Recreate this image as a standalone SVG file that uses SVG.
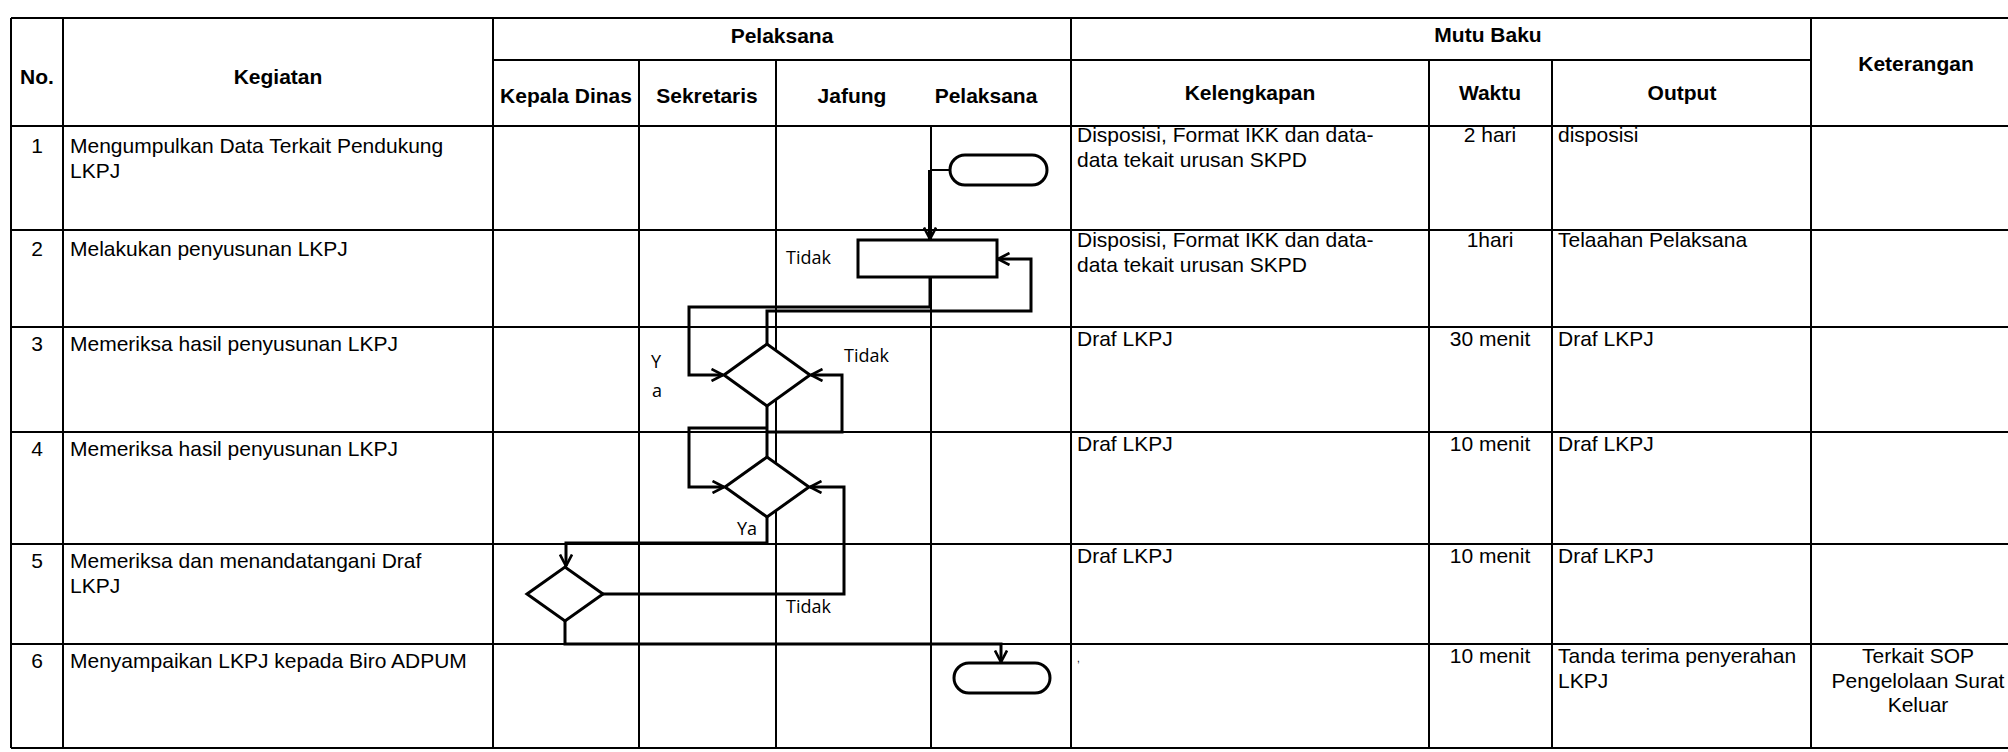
<svg xmlns="http://www.w3.org/2000/svg" width="2008" height="752" viewBox="0 0 2008 752">
<style>
.grid line{stroke:#000;stroke-width:2}
.h{font-family:"Liberation Sans",Arial,sans-serif;font-size:21px;font-weight:bold;text-anchor:middle;fill:#000}
.t{font-family:"Liberation Sans",Arial,sans-serif;font-size:21px;fill:#000}
.c{text-anchor:middle}
.lbl{font-family:"Open Sans","Noto Sans",sans-serif;font-size:18px;fill:#000}
.shape{fill:#fff;stroke:#000;stroke-width:3}
.conn{fill:none;stroke:#000;stroke-width:3}
</style>
<defs>
<marker id="arr" viewBox="0 0 14 14" refX="12.5" refY="7" markerWidth="14" markerHeight="14" orient="auto" markerUnits="userSpaceOnUse">
<path d="M1,1 L12.5,7 L1,13" fill="none" stroke="#000" stroke-width="2.6"/>
</marker>
</defs>
<rect width="2008" height="752" fill="#fff"/>
<g id="table" class="grid">
<line x1="11" y1="18" x2="2008" y2="18"/>
<line x1="493" y1="60" x2="1811" y2="60"/>
<line x1="11" y1="126" x2="2008" y2="126"/>
<line x1="11" y1="230" x2="2008" y2="230"/>
<line x1="11" y1="327" x2="2008" y2="327"/>
<line x1="11" y1="432" x2="2008" y2="432"/>
<line x1="11" y1="544" x2="2008" y2="544"/>
<line x1="11" y1="644" x2="2008" y2="644"/>
<line x1="11" y1="748" x2="2008" y2="748"/>
<line x1="11" y1="18" x2="11" y2="748"/>
<line x1="63" y1="18" x2="63" y2="748"/>
<line x1="493" y1="18" x2="493" y2="748"/>
<line x1="639" y1="60" x2="639" y2="748"/>
<line x1="776" y1="60" x2="776" y2="748"/>
<line x1="931" y1="126" x2="931" y2="748"/>
<line x1="1071" y1="18" x2="1071" y2="748"/>
<line x1="1429" y1="60" x2="1429" y2="748"/>
<line x1="1552" y1="60" x2="1552" y2="748"/>
<line x1="1811" y1="18" x2="1811" y2="748"/>
</g>
<g id="headers">
<text class="h" x="37" y="84">No.</text>
<text class="h" x="278" y="84">Kegiatan</text>
<text class="h" x="782" y="43">Pelaksana</text>
<text class="h" x="1488" y="42">Mutu Baku</text>
<text class="h" x="1916" y="71">Keterangan</text>
<text class="h" x="566" y="103">Kepala Dinas</text>
<text class="h" x="707" y="103">Sekretaris</text>
<text class="h" x="852" y="103">Jafung</text>
<text class="h" x="986" y="103">Pelaksana</text>
<text class="h" x="1250" y="100">Kelengkapan</text>
<text class="h" x="1490" y="100">Waktu</text>
<text class="h" x="1682" y="100">Output</text>
</g>
<g id="rows">
<text class="t c" x="37" y="153">1</text>
<text class="t" x="70" y="153">Mengumpulkan Data Terkait Pendukung</text>
<text class="t" x="70" y="178">LKPJ</text>
<text class="t c" x="37" y="256">2</text>
<text class="t" x="70" y="256">Melakukan penyusunan LKPJ</text>
<text class="t c" x="37" y="351">3</text>
<text class="t" x="70" y="351">Memeriksa hasil penyusunan LKPJ</text>
<text class="t c" x="37" y="456">4</text>
<text class="t" x="70" y="456">Memeriksa hasil penyusunan LKPJ</text>
<text class="t c" x="37" y="568">5</text>
<text class="t" x="70" y="568">Memeriksa dan menandatangani Draf</text>
<text class="t" x="70" y="593">LKPJ</text>
<text class="t c" x="37" y="668">6</text>
<text class="t" x="70" y="668">Menyampaikan LKPJ kepada Biro ADPUM</text>

<text class="t" x="1077" y="142">Disposisi, Format IKK dan data-</text>
<text class="t" x="1077" y="167">data tekait urusan SKPD</text>
<text class="t" x="1077" y="247">Disposisi, Format IKK dan data-</text>
<text class="t" x="1077" y="272">data tekait urusan SKPD</text>
<text class="t" x="1077" y="346">Draf LKPJ</text>
<text class="t" x="1077" y="451">Draf LKPJ</text>
<text class="t" x="1077" y="563">Draf LKPJ</text>
<text class="t" x="1077" y="662" style="font-size:10px">,</text>

<text class="t c" x="1490" y="142">2 hari</text>
<text class="t c" x="1490" y="247">1hari</text>
<text class="t c" x="1490" y="346">30 menit</text>
<text class="t c" x="1490" y="451">10 menit</text>
<text class="t c" x="1490" y="563">10 menit</text>
<text class="t c" x="1490" y="663">10 menit</text>

<text class="t" x="1558" y="142">disposisi</text>
<text class="t" x="1558" y="247">Telaahan Pelaksana</text>
<text class="t" x="1558" y="346">Draf LKPJ</text>
<text class="t" x="1558" y="451">Draf LKPJ</text>
<text class="t" x="1558" y="563">Draf LKPJ</text>
<text class="t" x="1558" y="663">Tanda terima penyerahan</text>
<text class="t" x="1558" y="688">LKPJ</text>

<text class="t c" x="1918" y="663">Terkait SOP</text>
<text class="t c" x="1918" y="688">Pengelolaan Surat</text>
<text class="t c" x="1918" y="712">Keluar</text>
</g>
<g id="connectors">
<path class="conn" style="stroke-width:2" d="M950,170 H930"/>
<path class="conn" style="stroke-width:4" d="M930,170 V239" marker-end="url(#arr)"/>
<path class="conn" d="M930,277 V307 H689 V375 H723" marker-end="url(#arr)"/>
<path class="conn" d="M767,344 V311 H1031 V259 H998" marker-end="url(#arr)"/>
<path class="conn" d="M767,406 V457"/>
<path class="conn" d="M767,428 H689 V487 H724" marker-end="url(#arr)"/>
<path class="conn" d="M767,432 H842 V375 H811" marker-end="url(#arr)"/>
<path class="conn" d="M767,517 V543 H566 V566" marker-end="url(#arr)"/>
<path class="conn" d="M603,594 H844 V487 H810" marker-end="url(#arr)"/>
<path class="conn" d="M565,621 V644 H1001 V662" marker-end="url(#arr)"/>
</g>
<g id="labels">
<text class="lbl" x="786" y="264">Tidak</text>
<text class="lbl" x="651" y="368">Y</text>
<text class="lbl" x="652" y="397">a</text>
<text class="lbl" x="844" y="362">Tidak</text>
<text class="lbl" x="737" y="535">Ya</text>
<text class="lbl" x="786" y="613">Tidak</text>
</g>
<g id="start"><rect class="shape" x="950" y="155" width="97" height="30" rx="15"/></g>
<g id="susun"><rect class="shape" x="858" y="240" width="139" height="37"/></g>
<g id="cek1"><polygon class="shape" points="724,375 767,344 810,375 767,406"/></g>
<g id="cek2"><polygon class="shape" points="725,487 767,457 809,487 767,517"/></g>
<g id="ttd"><polygon class="shape" points="527,594 565,567 603,594 565,621"/></g>
<g id="end"><rect class="shape" x="954" y="663" width="96" height="30" rx="15"/></g>
</svg>
